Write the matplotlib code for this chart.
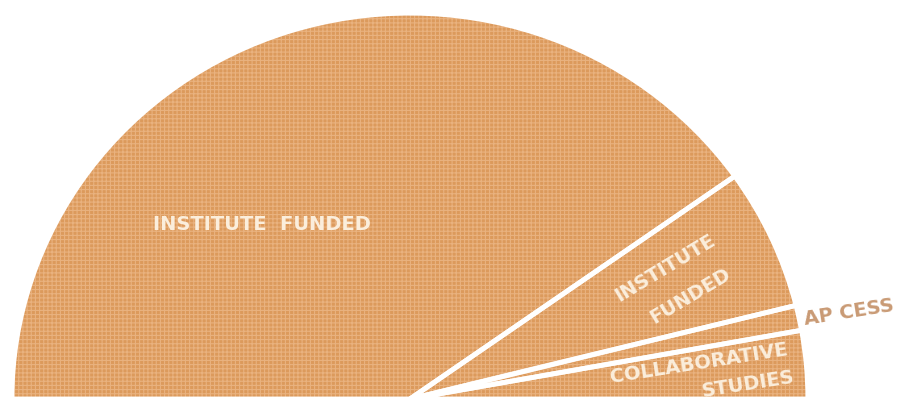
import matplotlib.pyplot as plt

# funding shares (percent of the half circle), counter-clockwise from the right
labels = ['COLLABORATIVE\nSTUDIES', 'AP CESS', 'INSTITUTE\nFUNDED', 'INSTITUTE  FUNDED']
shares = [5.7, 2.1, 11.8, 80.4]

face = '#DC9A5C'
grid = '#E9B27F'
text_col = '#FBEEDC'

plt.rcParams['hatch.linewidth'] = 0.8

fig = plt.figure(figsize=(9.01, 4.04), dpi=100)
ax = fig.add_axes([0, 0, 1, 1])

# hidden second half so the visible part is a semicircle
vals = shares + [sum(shares)]

# textured fill
fill, _ = ax.pie(vals, startangle=0, counterclock=True,
                 colors=[face] * len(vals),
                 wedgeprops=dict(linewidth=0, edgecolor=grid, hatch='++++'))
fill[-1].set_visible(False)
# white dividers on top
wedges, _ = ax.pie(vals, startangle=0, counterclock=True,
                   colors=['none'] * len(vals),
                   wedgeprops=dict(linewidth=3.5, edgecolor='white'))
wedges[-1].set_visible(False)

ax.set_aspect('auto')
ax.set_xlim(-1.03, 1.234)
ax.set_ylim(-0.013, 1.034)
ax.axis('off')


def px(x, y):
    return x / 901, 1 - y / 404


font = dict(family='DejaVu Sans', fontweight='bold', fontsize=14,
            ha='center', va='center', rotation_mode='anchor')

fig.text(*px(262, 224), labels[3], color=text_col, **font)

# small institute wedge, two lines
l1, l2 = labels[2].split('\n')
fig.text(*px(665, 268), l1, color=text_col, rotation=31, **font)
fig.text(*px(690, 296), l2, color=text_col, rotation=31, **font)

fig.text(*px(849, 312), labels[1], color='#C99A74', rotation=9, **font)

l1, l2 = labels[0].split('\n')
fig.text(*px(699, 364), l1, color=text_col, rotation=9, **font)
fig.text(*px(748, 384), l2, color=text_col, rotation=9, **font)

fig.savefig('out.png', dpi=100)
